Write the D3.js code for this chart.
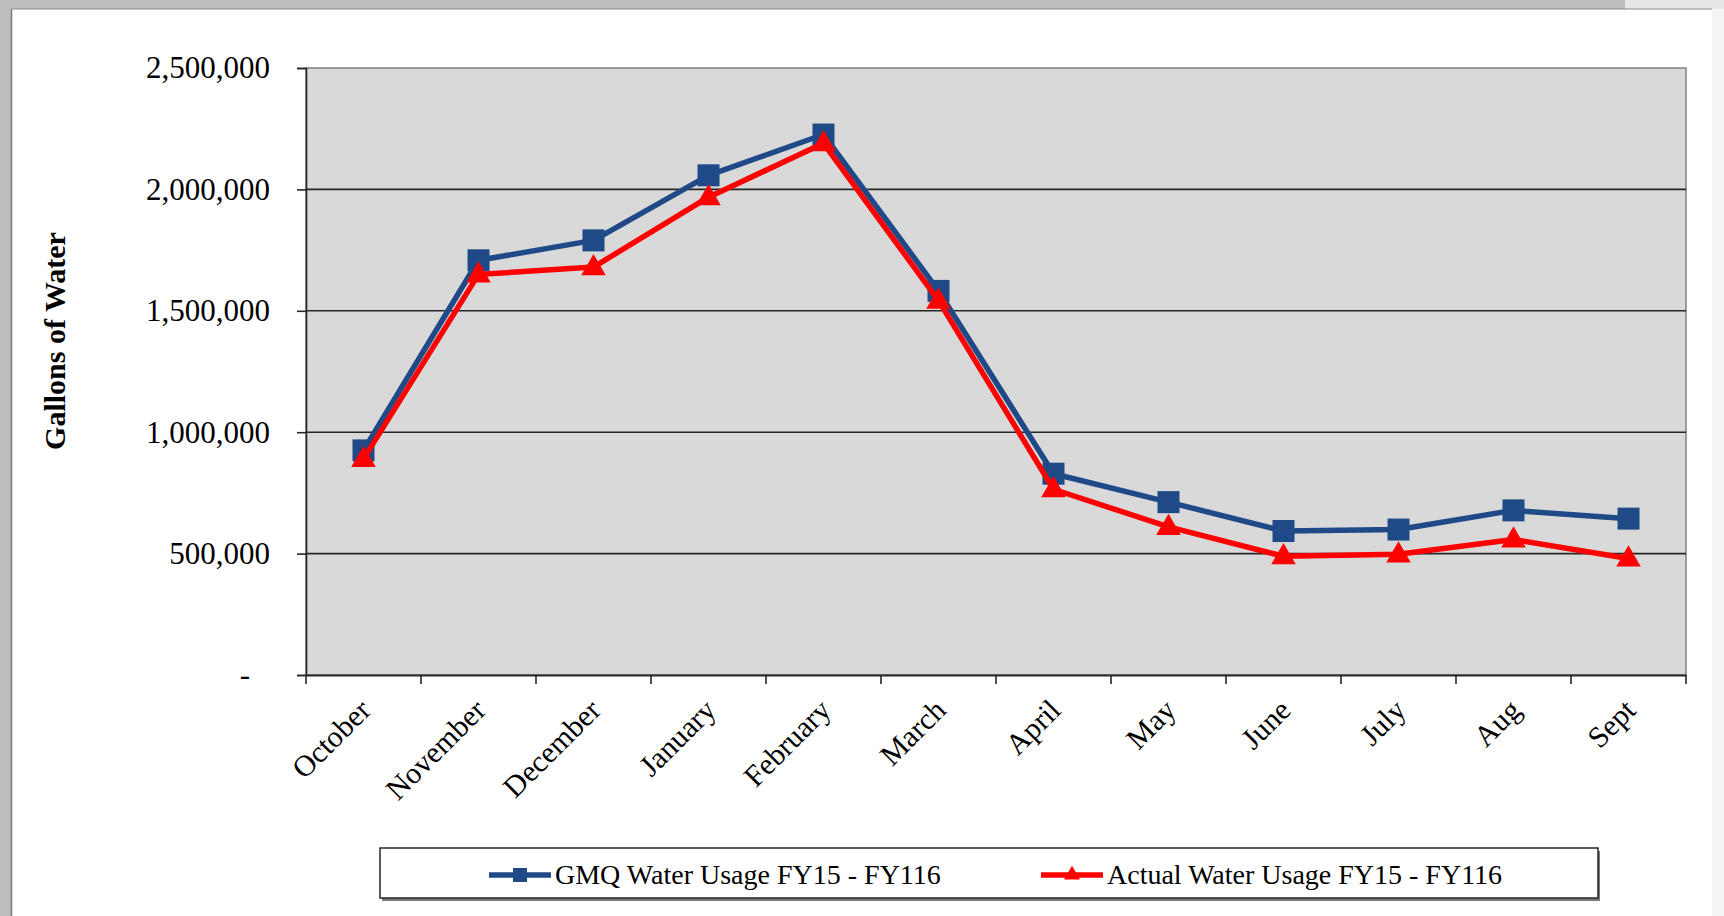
<!DOCTYPE html>
<html>
<head>
<meta charset="utf-8">
<script src="https://cdn.jsdelivr.net/npm/d3@7"></script>
<style>
  html, body { margin: 0; padding: 0; background: #ffffff; }
  svg { display: block; }
  text { font-family: "Liberation Serif", "Times New Roman", serif; fill: #000; }
</style>
</head>
<body>
<svg id="chart" width="1724" height="916"></svg>
<script>
const months = ["October","November","December","January","February","March","April","May","June","July","Aug","Sept"];
const gmqUsage = [925000, 1708000, 1790000, 2058000, 2226000, 1582000, 829000, 712000, 593000, 599000, 678000, 644000];
const actualUsage = [890000, 1650000, 1680000, 1968000, 2190000, 1542000, 765000, 610000, 489000, 497000, 558000, 480000];
const yTicks = [0, 500000, 1000000, 1500000, 2000000, 2500000];
const seriesNames = ["GMQ Water Usage FY15 - FY116", "Actual Water Usage FY15 - FY116"];
const yTitle = "Gallons of Water";

const serif = "'Liberation Serif', 'Times New Roman', serif";
const svg = d3.select("#chart");
const W = 1724, H = 916;

// frame
svg.append("rect").attr("x",0).attr("y",0).attr("width",W).attr("height",H).attr("fill","#bdbdbd");
svg.append("rect").attr("x",1625).attr("y",0).attr("width",99).attr("height",10).attr("fill","#e6e6e6");
svg.append("rect").attr("x",12).attr("y",9).attr("width",1700).attr("height",H-9).attr("fill","#ffffff");
svg.append("line").attr("x1",11.5).attr("x2",11.5).attr("y1",9).attr("y2",H).attr("stroke","#7a7a7a").attr("stroke-width",1.5);
svg.append("line").attr("x1",12).attr("x2",1712).attr("y1",9).attr("y2",9).attr("stroke","#8a8a8a").attr("stroke-width",1);
svg.append("rect").attr("x",1712).attr("y",9).attr("width",12).attr("height",H-9).attr("fill","#f4f4f4");

const x0 = 306, x1 = 1686, yTop = 68, yBot = 675;
const x = d3.scaleBand().domain(months).range([x0, x1]).padding(0);
const y = d3.scaleLinear().domain([0, 2500000]).range([yBot, yTop]);

// plot area
svg.append("rect").attr("x",x0).attr("y",yTop).attr("width",x1-x0).attr("height",yBot-yTop)
  .attr("fill","#d9d9d9").attr("stroke","#808080").attr("stroke-width",1.5);

// gridlines
svg.append("g").selectAll("line").data(yTicks.filter(d => d > 0 && d < 2500000)).join("line")
  .attr("x1",x0).attr("x2",x1).attr("y1",d=>y(d)).attr("y2",d=>y(d))
  .attr("stroke","#262626").attr("stroke-width",1.6);

// y axis
const yAxis = d3.axisLeft(y).tickValues(yTicks).tickSize(9).tickPadding(27)
  .tickFormat(d => d === 0 ? "-" : d3.format(",")(d));
const gy = svg.append("g").attr("transform",`translate(${x0},0)`).call(yAxis);
gy.select(".domain").attr("stroke","#262626").attr("stroke-width",1.6);
gy.selectAll(".tick line").attr("stroke","#262626").attr("stroke-width",1.6);
gy.selectAll(".tick text").attr("font-size",31).attr("font-family",serif).attr("fill","#000");
gy.selectAll(".tick text").filter(d => d === 0).attr("dx", -20);

// x axis
const xAxis = d3.axisBottom(x).tickSize(0).tickFormat("");
const gx = svg.append("g").attr("transform",`translate(0,${yBot})`).call(xAxis);
gx.select(".domain").attr("stroke","#262626").attr("stroke-width",2);
const bounds = months.map(m => x(m)).concat([x1]);
svg.append("g").selectAll("line").data(bounds).join("line")
  .attr("x1",d=>d).attr("x2",d=>d).attr("y1",yBot).attr("y2",yBot+9)
  .attr("stroke","#262626").attr("stroke-width",1.6);
svg.append("g").selectAll("text").data(months).join("text")
  .attr("transform", d => `translate(${x(d)+x.bandwidth()/2+9},${yBot+37}) rotate(-45)`)
  .attr("text-anchor","end").attr("font-size",30).attr("font-family",serif).text(d => d);

// y title
svg.append("text").attr("transform","translate(65,341) rotate(-90)")
  .attr("text-anchor","middle").attr("font-size",30).attr("font-weight","bold").attr("font-family",serif).text(yTitle);

// lines
const cx = d => x(d) + x.bandwidth()/2;
const line = d3.line().x(d => cx(d[0])).y(d => y(d[1]));
const gmqPts = months.map((m,i) => [m, gmqUsage[i]]);
const actPts = months.map((m,i) => [m, actualUsage[i]]);
const blue = "#1f4a87", red = "#ff0000";

svg.append("path").datum(gmqPts).attr("d",line).attr("fill","none").attr("stroke",blue).attr("stroke-width",5.5).attr("stroke-linejoin","round");
const sq = 22;
svg.append("g").selectAll("rect").data(gmqPts).join("rect")
  .attr("x",d=>cx(d[0])-sq/2).attr("y",d=>y(d[1])-sq/2).attr("width",sq).attr("height",sq).attr("fill",blue);

svg.append("path").datum(actPts).attr("d",line).attr("fill","none").attr("stroke",red).attr("stroke-width",5.5).attr("stroke-linejoin","round");
const tri = d3.symbol().type(d3.symbolTriangle).size(260);
svg.append("g").selectAll("path").data(actPts).join("path")
  .attr("transform",d=>`translate(${cx(d[0])},${y(d[1])+1})`).attr("d",tri()).attr("fill",red);

// legend
const lg = svg.append("g");
lg.append("rect").attr("x",382).attr("y",851).attr("width",1218).attr("height",50).attr("fill","#7a7a7a");
lg.append("rect").attr("x",380).attr("y",848).attr("width",1218).attr("height",50).attr("fill","#fff").attr("stroke","#262626").attr("stroke-width",1.5);
const legendItems = [
  {name: seriesNames[0], color: blue, x: 489, marker: "square"},
  {name: seriesNames[1], color: red, x: 1041, marker: "triangle"}
];
const ly = 875;
legendItems.forEach(it => {
  lg.append("line").attr("x1",it.x).attr("x2",it.x+62).attr("y1",ly).attr("y2",ly).attr("stroke",it.color).attr("stroke-width",5.5);
  if (it.marker === "square") {
    lg.append("rect").attr("x",it.x+31-7).attr("y",ly-7).attr("width",14).attr("height",14).attr("fill",it.color);
  } else {
    lg.append("path").attr("transform",`translate(${it.x+31},${ly})`).attr("d",d3.symbol().type(d3.symbolTriangle).size(110)()).attr("fill",it.color);
  }
  lg.append("text").attr("x",it.x+66).attr("y",ly+9).attr("font-size",28).attr("font-family",serif).text(it.name);
});
</script>
</body>
</html>
